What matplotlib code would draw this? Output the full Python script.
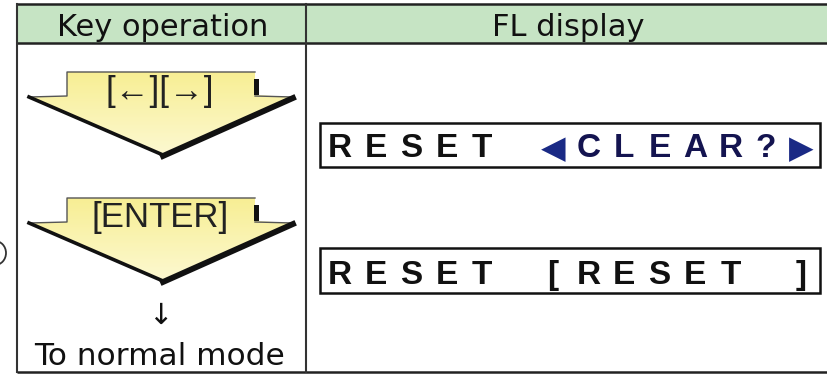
import numpy as np
import matplotlib
matplotlib.use("Agg")
import matplotlib.pyplot as plt
from matplotlib.patches import Polygon, Rectangle, Arc

# ---- content ----
headers = ["Key operation", "FL display"]
key_ops = ["[←][→]", "[ENTER]"]
after_text = "↓"
final_text = "To normal mode"
display_left = ["RESET", "RESET"]
display_right = ["◀CLEAR?▶", "[RESET ]"]

W, H = 827, 376
fig = plt.figure(figsize=(W / 100, H / 100), dpi=100)
ax = fig.add_axes([0, 0, 1, 1])
ax.set_xlim(0, W)
ax.set_ylim(H, 0)
ax.axis("off")

TXT = ["DejaVu Sans"]
ARIAL = ["Liberation Sans", "DejaVu Sans"]

# header band
ax.add_patch(Rectangle((17, 4), W - 17, 39, facecolor="#c6e4c4", edgecolor="none", zorder=1))
# table lines
lw = 1.8
for y in (4, 43, 372):
    ax.plot([17, W], [y, y], color="#222222", lw=lw, zorder=3, solid_capstyle="butt")
for x in (17, 306):
    ax.plot([x, x], [4, 372], color="#333333", lw=1.5, zorder=3)

ax.text(163, 36, headers[0], fontsize=22, family=TXT, ha="center", va="baseline", color="#111111", zorder=4)
ax.text(568, 36, headers[1], fontsize=22, family=TXT, ha="center", va="baseline", color="#111111", zorder=4)

# gradient image for arrows
grad = np.linspace(0, 1, 100).reshape(-1, 1)
top_c = np.array([0.97, 0.935, 0.58])
bot_c = np.array([0.99, 0.975, 0.82])
img = top_c[None, None, :] * (1 - grad[..., None]) + bot_c[None, None, :] * grad[..., None]


def draw_arrow(top, label, baseline):
    step = top + 25
    tip = top + 83
    pts = [(29, step), (67, step - 1), (67, top), (255, top), (255, step - 2), (293, step), (163, tip)]
    poly = Polygon(pts, closed=True, facecolor="none", edgecolor="none", zorder=2)
    ax.add_patch(poly)
    im = ax.imshow(img, extent=(29, 293, tip, top), aspect="auto", zorder=2)
    im.set_clip_path(poly)
    # outlines
    ax.plot([29, 67, 67, 255], [step, step - 1, top, top], color="#555555", lw=1.0, zorder=3)
    ax.plot([255, 293], [step - 1, step], color="#555555", lw=1.0, zorder=3)
    ax.plot([29, 163], [step, tip], color="#111111", lw=2.6, zorder=3)
    ax.plot([293, 163], [step + 1, tip + 1], color="#111111", lw=4.2, zorder=3)
    ax.add_patch(Rectangle((254, top + 7), 5, step - top - 9, facecolor="#111111", edgecolor="none", zorder=3))
    ax.text(160, baseline, label, fontsize=25, family=ARIAL, ha="center", va="baseline",
            color="#222222", zorder=4)


draw_arrow(72, key_ops[0], 101)
draw_arrow(198, key_ops[1], 227)

ax.text(160, 316, after_text, fontsize=21, family=TXT, ha="center", va="center", color="#111111")
ax.text(160, 365, final_text, fontsize=22.5, family=TXT, ha="center", va="baseline", color="#111111")

# FL display boxes
x0, stepx = 340, 35.5
for (y0, y1, base, left, right, rcol) in [
    (123, 167, 157, display_left[0], display_right[0], "#141450"),
    (248, 293, 284, display_left[1], display_right[1], "#111111"),
]:
    ax.add_patch(Rectangle((320, y0), 500, y1 - y0, facecolor="white", edgecolor="#111111", lw=1.8, zorder=3))
    chars = list(left) + [" "] + list(right)
    for i, ch in enumerate(chars):
        if ch == " ":
            continue
        col = "#111111" if i < len(left) else rcol
        fs = 24
        yb = base
        if ch in "◀▶":
            col = "#1a2a85"
            fs = 23
            yb = base + 1
        ax.text(x0 + i * stepx, yb, ch, fontsize=fs, family=ARIAL, fontweight="bold",
                ha="center", va="baseline", color=col, zorder=4)

# partial circle at far left
ax.add_patch(Arc((-5, 253), 22, 24, theta1=-90, theta2=90, color="#333333", lw=1.3))

fig.savefig("out.png", dpi=100)
